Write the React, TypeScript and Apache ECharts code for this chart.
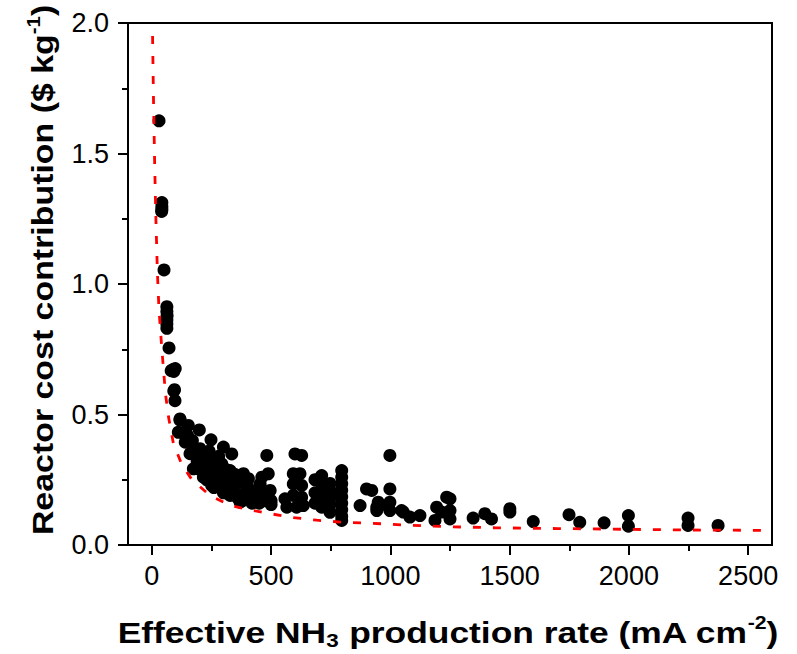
import React, { useEffect, useRef } from "react";
import * as echarts from "echarts";

const xMajorTicks = [0, 500, 1000, 1500, 2000, 2500];
const xMinorTicks = [250, 750, 1250, 1750, 2250];

const xTitle = "{b|Effective NH}{sub|3}{b| production rate (mA cm}{sup|-2}{b|)}";
const yTitle = "{b|Reactor cost contribution ($ kg}{sup|-1}{b|)}";

const steepPoints = [
  [30, 1.625], [42, 1.312], [42, 1.297], [42, 1.285], [41, 1.278], [51, 1.054],
  [63, 0.913], [63, 0.895], [64, 0.878], [63, 0.862], [63, 0.847], [63, 0.83],
  [72, 0.755], [81, 0.668], [88, 0.672], [98, 0.676], [92, 0.665],
  [95, 0.595], [92, 0.59], [97, 0.553], [118, 0.483], [118, 0.478],
];

const clusterPoints = [
  [153, 0.458], [199, 0.441], [111, 0.432], [130, 0.43], [140, 0.394], [248, 0.403],
  [160, 0.35], [202, 0.369], [300, 0.375], [335, 0.349], [189, 0.305], [174, 0.292],
  [237, 0.285], [216, 0.26], [251, 0.228], [293, 0.311], [328, 0.285], [384, 0.273],
  [405, 0.254], [328, 0.19], [370, 0.164], [412, 0.209], [454, 0.234], [440, 0.177],
  [482, 0.196], [150, 0.42], [170, 0.4], [180, 0.37], [200, 0.33], [210, 0.31],
  [220, 0.34], [230, 0.3], [250, 0.32], [260, 0.29], [270, 0.27], [280, 0.25],
  [230, 0.25], [260, 0.22], [290, 0.24], [300, 0.26], [320, 0.23], [340, 0.22],
  [350, 0.2], [300, 0.2], [360, 0.18], [380, 0.17], [390, 0.2], [400, 0.18],
  [420, 0.16], [430, 0.19], [460, 0.2], [470, 0.17], [400, 0.23], [350, 0.25],
  [310, 0.29], [200, 0.29], [190, 0.32], [240, 0.36], [280, 0.34], [260, 0.26],
  [350, 0.27], [380, 0.24], [450, 0.16], [500, 0.17], [500, 0.155],
];

const midPoints = [
  [482, 0.343], [600, 0.349], [628, 0.343], [488, 0.273], [461, 0.26], [496, 0.209],
  [468, 0.196], [558, 0.177], [566, 0.145], [593, 0.273], [593, 0.234], [593, 0.19],
  [621, 0.273], [628, 0.228], [607, 0.145], [628, 0.183], [635, 0.151],
  [712, 0.266], [712, 0.24], [712, 0.215], [712, 0.19], [712, 0.165], [712, 0.145],
  [700, 0.25], [705, 0.2], [747, 0.236], [747, 0.21], [747, 0.18], [747, 0.155],
  [747, 0.125], [796, 0.285], [796, 0.26], [796, 0.235], [796, 0.21], [796, 0.185],
  [796, 0.16], [796, 0.135], [796, 0.11], [796, 0.094], [790, 0.2],
  [684, 0.25], [684, 0.2], [684, 0.16],
];

const tailPoints = [
  [900, 0.215], [873, 0.151], [949, 0.164], [922, 0.209], [943, 0.145], [998, 0.343],
  [998, 0.215], [956, 0.151], [998, 0.164], [998, 0.132], [943, 0.132], [1047, 0.132],
  [1054, 0.126], [1082, 0.107], [1124, 0.113], [1194, 0.145], [1187, 0.094],
  [1215, 0.126], [1236, 0.183], [1250, 0.177], [1250, 0.132], [1250, 0.1],
  [1347, 0.103], [1396, 0.12], [1424, 0.1], [1501, 0.139], [1501, 0.126],
  [1599, 0.09], [1749, 0.116], [1794, 0.087], [1896, 0.085], [1998, 0.113],
  [1998, 0.072], [2248, 0.103], [2248, 0.075], [2374, 0.075],
];

const fitCurve = [
  [3, 1.95], [7, 1.7], [12, 1.45], [17, 1.25], [23, 1.05], [30, 0.9], [42, 0.75],
  [50, 0.66], [57, 0.58], [70, 0.49], [90, 0.39], [125, 0.31], [168, 0.25],
  [244, 0.19], [328, 0.152], [426, 0.132], [496, 0.12], [593, 0.105], [691, 0.095],
  [789, 0.088], [887, 0.084], [970, 0.081], [1068, 0.076], [1159, 0.073],
  [1250, 0.07], [1347, 0.068], [1438, 0.066], [1700, 0.063], [1906, 0.061],
  [2185, 0.058], [2548, 0.056], [2600, 0.055],
];

const FONT = "'Liberation Sans', Arial, sans-serif";

export default function App() {
  const ref = useRef<HTMLDivElement>(null);
  useEffect(() => {
    if (!ref.current) return;
    const chart = echarts.init(ref.current, undefined, { renderer: "svg" });
    const base = { fontFamily: FONT, fontSize: 30, fontWeight: "bold", fill: "#000", color: "#000", lineHeight: 36 };
    const sup = { fontFamily: FONT, fontSize: 18, fontWeight: "bold", fill: "#000", color: "#000", lineHeight: 16, verticalAlign: "top" };
    const sub = { fontFamily: FONT, fontSize: 19, fontWeight: "bold", fill: "#000", color: "#000", lineHeight: 14, verticalAlign: "bottom" };
    const rich = { b: base, sup, sub };
    chart.setOption({
      animation: false,
      backgroundColor: "#fff",
      grid: { left: 128, right: 25, top: 23, bottom: 109, show: true, borderColor: "#000", borderWidth: 2, backgroundColor: "transparent" },
      xAxis: [
        {
          type: "value", min: -100, max: 2600,
          axisLine: { show: true, onZero: false, lineStyle: { color: "#000", width: 2 } },
          axisTick: { show: true, customValues: xMajorTicks, length: 10, lineStyle: { color: "#000", width: 2 } },
          axisLabel: { customValues: xMajorTicks, fontFamily: FONT, fontSize: 27, color: "#000", margin: 17, formatter: (v: number) => String(v) },
          splitLine: { show: false },
        },
        {
          type: "value", min: -100, max: 2600, position: "bottom",
          axisLine: { show: false, onZero: false },
          axisTick: { show: true, customValues: xMinorTicks, length: 6, lineStyle: { color: "#000", width: 2 } },
          axisLabel: { show: false },
          splitLine: { show: false },
        },
      ],
      yAxis: {
        type: "value", min: 0, max: 2, interval: 0.5,
        axisLine: { show: true, onZero: false, lineStyle: { color: "#000", width: 2 } },
        axisTick: { show: true, length: 10, lineStyle: { color: "#000", width: 2 } },
        minorTick: { show: true, splitNumber: 2, length: 6, lineStyle: { color: "#000", width: 2 } },
        axisLabel: { fontFamily: FONT, fontSize: 27, color: "#000", margin: 19, formatter: (v: number) => v.toFixed(1) },
        splitLine: { show: false },
        minorSplitLine: { show: false },
      },
      graphic: [
        {
          type: "text", x: 448, y: 632, scaleX: 1.18,
          style: { text: xTitle, rich, align: "center", verticalAlign: "middle", fontFamily: FONT, fontSize: 30, fontWeight: "bold", fill: "#000" },
        },
        {
          type: "text", x: 43, y: 270, rotation: Math.PI / 2, scaleX: 1.13,
          style: { text: yTitle, rich, align: "center", verticalAlign: "middle", fontFamily: FONT, fontSize: 30, fontWeight: "bold", fill: "#000" },
        },
      ],
      series: [
        {
          type: "scatter", xAxisIndex: 0,
          data: [...steepPoints, ...clusterPoints, ...midPoints, ...tailPoints],
          symbol: "circle", symbolSize: 13,
          itemStyle: { color: "#000", opacity: 1 },
        },
        {
          type: "line", xAxisIndex: 0, data: fitCurve, showSymbol: false, smooth: false,
          lineStyle: { color: "#ff0000", width: 2.8, type: [8, 12] },
          z: 5,
        },
      ],
    });
    return () => chart.dispose();
  }, []);
  return <div ref={ref} style={{ position: "fixed", left: 0, top: 0, width: 797, height: 654, background: "#fff" }} />;
}
